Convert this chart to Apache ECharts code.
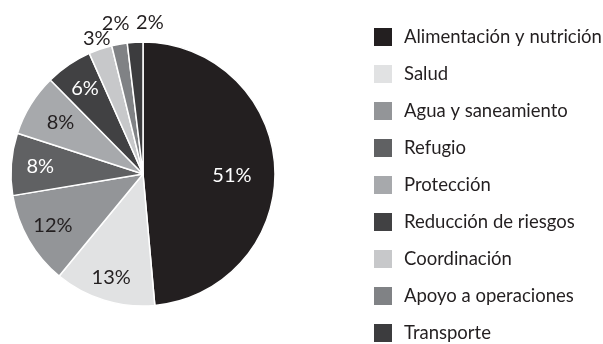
<!DOCTYPE html>
<html>
<head>
<meta charset="utf-8">
<style>
  html, body { margin: 0; padding: 0; background: #ffffff; }
  #chart { width: 603px; height: 344px; }
</style>
<script src="https://cdn.jsdelivr.net/npm/echarts@6/dist/echarts.min.js"></script>
</head>
<body>
<div id="chart"></div>
<script>
// Sectors of humanitarian funding (percent shares)
const categories = [
  'Alimentación y nutrición',
  'Salud',
  'Agua y saneamiento',
  'Refugio',
  'Protección',
  'Reducción de riesgos',
  'Coordinación',
  'Apoyo a operaciones',
  'Transporte'
];
const shares = [51, 13, 12, 8, 8, 6, 3, 2, 2];

const sliceColors = ['#231f20', '#e1e2e3', '#939598', '#606163', '#a7a9ac', '#414143', '#c7c8ca', '#808285', '#3c3c3e'];
const labelColors = ['#ffffff', '#231f20', '#231f20', '#ffffff', '#231f20', '#ffffff', '#231f20', '#231f20', '#231f20'];

// Label placement: distance from centre and a small sideways nudge
const labelRadius = [89, 108, 104, 103, 97, 103, 143, 153, 152];
const labelNudgeX = [0, 0, 0, 0, 0, 0, 0, 0, 16];
const labelNudgeY = [6, 0, 0, 0, 0, 0, 0, 0, 0];

const CX = 143, CY = 174, R = 132;
const FONT = 'Lato, "Noto Sans", sans-serif';

const chart = echarts.init(document.getElementById('chart'), null, { renderer: 'canvas' });

chart.setOption({
  animation: false,
  backgroundColor: '#ffffff',
  legend: {
    orient: 'vertical',
    left: 372,
    top: 26,
    padding: 0,
    itemWidth: 20,
    itemHeight: 20,
    itemGap: 15,
    icon: 'rect',
    selectedMode: false,
    textStyle: { fontFamily: FONT, fontSize: 18.5, lineHeight: 22, color: '#231f20', padding: [0, 0, 0, 6] },
    data: categories
  },
  series: [{
    type: 'pie',
    center: [CX, CY],
    radius: [0, R],
    startAngle: 90,
    clockwise: true,
    avoidLabelOverlap: false,
    itemStyle: { borderColor: '#ffffff', borderWidth: 1.5 },
    label: {
      show: true,
      position: 'inside',
      formatter: '{c}%',
      fontFamily: FONT,
      fontSize: 20
    },
    labelLine: { show: false },
    labelLayout: function (p) {
      const i = p.dataIndex;
      const lx = p.labelRect.x + p.labelRect.width / 2;
      const ly = p.labelRect.y + p.labelRect.height / 2;
      const vx = lx - CX, vy = ly - CY;
      const d = Math.sqrt(vx * vx + vy * vy) || 1;
      const ux = vx / d, uy = vy / d;
      const t = labelRadius[i] - d;
      return { dx: ux * t + labelNudgeX[i], dy: uy * t + labelNudgeY[i] };
    },
    data: categories.map((name, i) => ({
      name: name,
      value: shares[i],
      itemStyle: { color: sliceColors[i] },
      label: { color: labelColors[i] }
    }))
  }]
});
</script>
</body>
</html>
